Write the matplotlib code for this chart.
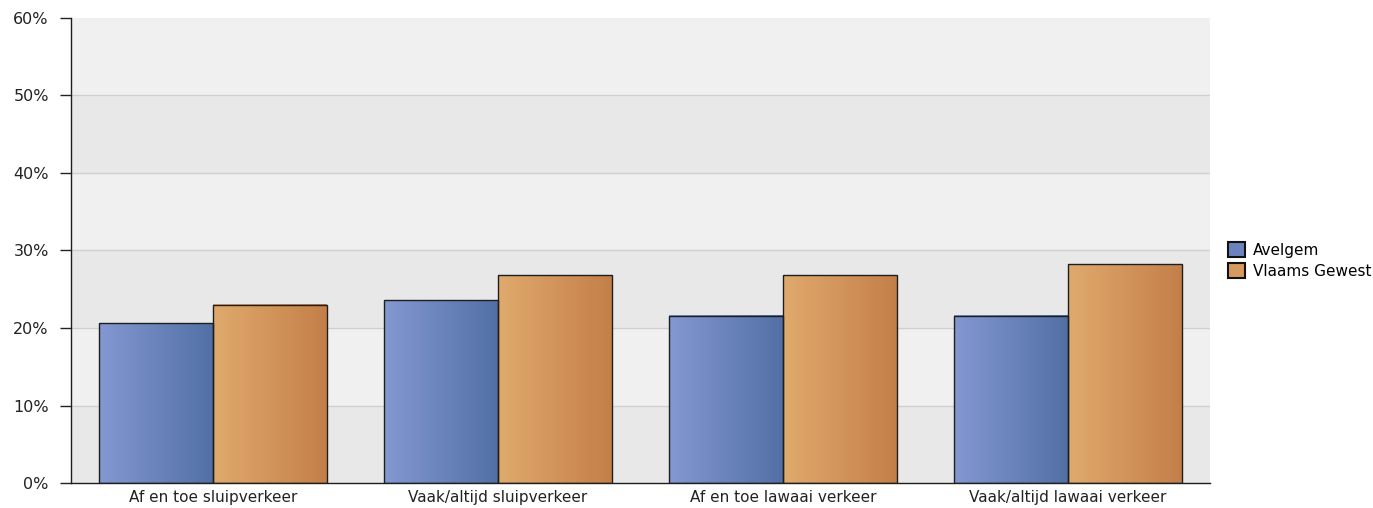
import matplotlib
matplotlib.use("Agg")
import matplotlib.pyplot as plt
import numpy as np
from matplotlib.colors import LinearSegmentedColormap
from matplotlib.patches import Patch
from matplotlib.ticker import FuncFormatter, MultipleLocator

categories = [
    "Af en toe sluipverkeer",
    "Vaak/altijd sluipverkeer",
    "Af en toe lawaai verkeer",
    "Vaak/altijd lawaai verkeer",
]
avelgem = [20.6, 23.6, 21.6, 21.6]
vlaams_gewest = [23.0, 26.8, 26.8, 28.2]
series_names = ["Avelgem", "Vlaams Gewest"]

# left -> right gradient colours of each series
blue_grad = ["#8498d2", "#5270a6"]
orange_grad = ["#e0aa6d", "#c47f49"]

plt.rcParams["font.family"] = ["DejaVu Sans"]

fig = plt.figure(figsize=(13.73, 5.08), dpi=100)
ax = fig.add_axes([71 / 1373, 25 / 508, (1210 - 71) / 1373, (483 - 18) / 508])

ymax = 60
# alternating background bands
for i, lo in enumerate(range(0, ymax, 10)):
    ax.axhspan(lo, lo + 10, color="#e8e8e8" if i % 2 == 0 else "#f0f0f0", zorder=0, lw=0)
for y in range(10, ymax, 10):
    ax.axhline(y, color="#cfcfcf", lw=1, zorder=0.5)

x = np.arange(len(categories))
width = 0.4
bars_a = ax.bar(x - width / 2, avelgem, width, edgecolor="#1e1e1e", linewidth=1,
                facecolor="none", zorder=3)
bars_v = ax.bar(x + width / 2, vlaams_gewest, width, edgecolor="#1e1e1e", linewidth=1,
                facecolor="none", zorder=3)

grad = np.linspace(0, 1, 256).reshape(1, -1)
for bars, cols in [(bars_a, blue_grad), (bars_v, orange_grad)]:
    cmap = LinearSegmentedColormap.from_list("g", cols)
    for b in bars:
        x0, w, h = b.get_x(), b.get_width(), b.get_height()
        ax.imshow(grad, cmap=cmap, aspect="auto", extent=[x0, x0 + w, 0, h],
                  zorder=2, interpolation="bilinear")

ax.set_xlim(-0.5, len(categories) - 0.5)
ax.set_ylim(0, ymax)
ax.set_xticks(x)
ax.set_xticklabels(categories, fontsize=11)
ax.yaxis.set_major_locator(MultipleLocator(10))
ax.yaxis.set_major_formatter(FuncFormatter(lambda v, _: f"{v:.0f}%"))
ax.tick_params(axis="y", length=8, width=1, pad=8, labelsize=11.5, colors="#222222")
ax.tick_params(axis="x", length=0, pad=5, colors="#222222")

for side in ["top", "right"]:
    ax.spines[side].set_visible(False)
for side in ["left", "bottom"]:
    ax.spines[side].set_color("#1e1e1e")
    ax.spines[side].set_linewidth(1)

handles = [
    Patch(facecolor="#6b82bd", edgecolor="#111111", linewidth=1.5),
    Patch(facecolor="#d6995e", edgecolor="#111111", linewidth=1.5),
]
fig.legend(handles, series_names, loc="upper left", bbox_to_anchor=(1222 / 1373, 1 - 236 / 508),
           frameon=False, fontsize=11, handlelength=1.1, handleheight=1.1,
           handletextpad=0.55, labelspacing=0.35, borderaxespad=0)

fig.savefig("out.png", dpi=100)
